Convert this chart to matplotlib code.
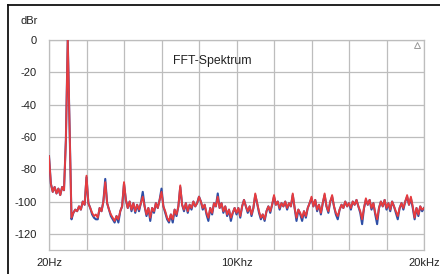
import numpy as np
import matplotlib
matplotlib.use("Agg")
import matplotlib.pyplot as plt
from matplotlib.lines import Line2D

plt.rcParams['font.family'] = ['Liberation Sans', 'DejaVu Sans']

# FFT bins (Hz)
freqs = np.linspace(20, 20000, 201)

red_db = [
    -72, -89, -94, -91, -95, -92, -96, -91, -93, -62,
    0, -55, -110, -107, -105, -106, -103, -105, -100, -102,
    -84, -101, -104, -107, -109, -108, -110, -104, -106, -100,
    -88, -101, -105, -108, -110, -112, -109, -111, -106, -103,
    -88, -99, -104, -100, -105, -101, -106, -102, -105, -101,
    -97, -103, -108, -104, -110, -104, -106, -101, -104, -99,
    -94, -103, -106, -110, -112, -108, -111, -105, -108, -103,
    -90, -102, -105, -101, -106, -102, -104, -100, -103, -101,
    -97, -100, -104, -102, -107, -110, -104, -107, -101, -103,
    -97, -104, -101, -106, -103, -108, -105, -110, -107, -104,
    -107, -104, -109, -103, -99, -103, -106, -103, -108, -104,
    -95, -101, -106, -110, -108, -111, -106, -103, -106, -102,
    -96, -102, -100, -104, -101, -103, -100, -104, -101, -103,
    -95, -104, -110, -105, -107, -110, -106, -109, -104, -101,
    -97, -103, -99, -105, -102, -107, -101, -95, -103, -106,
    -100, -96, -103, -107, -109, -105, -102, -104, -100, -103,
    -101, -104, -100, -102, -99, -103, -106, -111, -104, -98,
    -102, -99, -104, -101, -107, -111, -104, -100, -103, -99,
    -104, -101, -105, -100, -103, -106, -109, -104, -101, -104,
    -100, -96, -102, -97, -103, -110, -104, -108, -103, -105,
    -104,
]

blue_db = [
    -72, -89, -94, -91, -95, -92, -96, -91, -93, -62,
    0, -55, -111, -107, -105, -106, -103, -105, -100, -102,
    -85, -101, -104, -108, -110, -111, -111, -104, -106, -100,
    -86, -101, -105, -109, -111, -113, -109, -113, -106, -103,
    -89, -99, -104, -100, -106, -101, -107, -102, -106, -101,
    -94, -103, -109, -104, -112, -104, -107, -101, -104, -99,
    -92, -103, -107, -111, -113, -108, -113, -105, -109, -103,
    -91, -102, -106, -101, -107, -102, -105, -100, -103, -101,
    -97, -100, -105, -102, -108, -112, -104, -108, -101, -103,
    -95, -104, -101, -107, -103, -109, -105, -112, -107, -104,
    -108, -104, -110, -103, -99, -103, -107, -103, -109, -104,
    -96, -101, -107, -111, -108, -112, -106, -103, -107, -102,
    -97, -102, -100, -105, -101, -103, -100, -105, -101, -103,
    -96, -104, -112, -105, -108, -112, -106, -110, -104, -101,
    -98, -103, -99, -106, -102, -108, -101, -96, -103, -107,
    -100, -97, -103, -108, -111, -105, -102, -104, -100, -103,
    -101, -105, -100, -102, -99, -103, -107, -114, -104, -99,
    -102, -99, -105, -101, -108, -114, -104, -100, -103, -99,
    -105, -101, -106, -100, -103, -107, -111, -104, -101, -105,
    -100, -97, -102, -98, -104, -111, -104, -109, -103, -106,
    -104,
]

y_ticks = [0, -20, -40, -60, -80, -100, -120]
x_grid = np.linspace(20, 20000, 11)
x_labels = ['20Hz', '', '', '', '', '10Khz', '', '', '', '', '20kHz']

fig = plt.figure(figsize=(4.4, 2.74), dpi=100)
ax = fig.add_axes([49/440, 1-250/274, 375/440, 210/274])

ax.plot(freqs, blue_db, color='#2d4ea6', lw=1.5, zorder=3)
ax.plot(freqs, red_db, color='#e63c3f', lw=1.35, zorder=4)

ax.set_xlim(20, 20000)
ax.set_ylim(-130, 0)
ax.set_yticks(y_ticks)
ax.set_yticklabels([str(v) for v in y_ticks])
ax.set_xticks(x_grid)
ax.set_xticklabels(x_labels)
ax.tick_params(axis='both', length=0, labelsize=8, colors='#222222')
ax.tick_params(axis='y', pad=9)
ax.tick_params(axis='x', pad=5.5)
ax.grid(True, color='#bdbdbd', lw=0.9, zorder=1)
for s in ax.spines.values():
    s.set_color('#bdbdbd')
    s.set_linewidth(0.9)

ax.text(0.435, 0.9, 'FFT-Spektrum', transform=ax.transAxes, fontsize=8.8,
        ha='center', va='center', color='#222222')
ax.plot([0.982], [0.975], transform=ax.transAxes, marker='^', ms=4,
        mfc='none', mec='#999999', mew=0.7, clip_on=False)

fig.text(29/440, 1-21.5/274, 'dBr', fontsize=8, ha='center', va='center', color='#222222')

# outer frame (top and left edges visible)
fig.add_artist(Line2D([7.5/440, 1.0], [1-4.5/274, 1-4.5/274], color='#111111', lw=1.3))
fig.add_artist(Line2D([7.5/440, 7.5/440], [0.0, 1-4.5/274], color='#111111', lw=1.3))

fig.savefig('out.png', dpi=100)
